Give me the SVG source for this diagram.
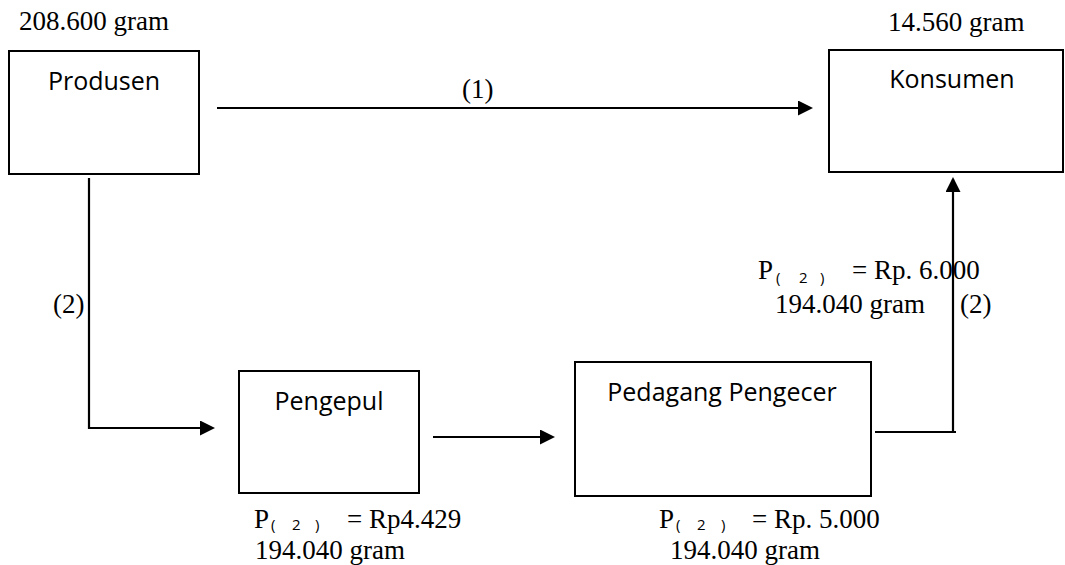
<svg xmlns="http://www.w3.org/2000/svg" width="1065" height="565" viewBox="0 0 1065 565">
  <style>
    .box { fill: #ffffff; stroke: #000000; stroke-width: 2; }
    .lbl { font-family: "Open Sans", "Liberation Sans", sans-serif; font-size: 25px; fill: #000000; text-anchor: middle; }
    .t { font-family: "Liberation Serif", "Times New Roman", serif; font-size: 27px; fill: #000000; }
    .sub { font-family: "Open Sans", "Liberation Sans", sans-serif; font-size: 15px; }
    .conn { fill: none; stroke: #000000; stroke-width: 2.2; }
  </style>
  <defs>
    <marker id="arrow" viewBox="0 0 15 15" refX="13" refY="7.5" markerWidth="15" markerHeight="15" markerUnits="userSpaceOnUse" orient="auto">
      <path d="M0,0 L15,7.5 L0,15 Z" fill="#000000"/>
    </marker>
  </defs>
  <rect width="1065" height="565" fill="#ffffff"/>

  <g id="connectors">
    <path class="conn" d="M217,108 H811" marker-end="url(#arrow)"/>
    <path class="conn" d="M89,178 V428 H213" marker-end="url(#arrow)"/>
    <path class="conn" d="M433,437 H553" marker-end="url(#arrow)"/>
    <path class="conn" d="M875,432 H956"/>
    <path class="conn" d="M953,433 V179" marker-end="url(#arrow)"/>
    <text class="t" x="462" y="98">(1)</text>
    <text class="t" x="53" y="313">(2)</text>
    <text class="t" x="960" y="313">(2)</text>
  </g>

  <g id="produsen">
    <text class="t" x="19" y="30">208.600 gram</text>
    <rect class="box" x="9" y="51" width="190" height="123"/>
    <text class="lbl" x="104" y="90">Produsen</text>
  </g>

  <g id="konsumen">
    <text class="t" x="888" y="31">14.560 gram</text>
    <rect class="box" x="829" y="50" width="234" height="122"/>
    <text class="lbl" x="952" y="88">Konsumen</text>
    <text class="t" x="758" y="279">P<tspan class="sub" x="776 788 799 810 820" y="283">( 2 )</tspan><tspan x="852" y="279">= Rp. 6.000</tspan></text>
    <text class="t" x="775" y="313">194.040 gram</text>
  </g>

  <g id="pengepul">
    <rect class="box" x="239" y="371" width="180" height="122"/>
    <text class="lbl" x="329" y="410">Pengepul</text>
    <text class="t" x="254" y="528">P<tspan class="sub" x="271 282 292 304 315" y="530">( 2 )</tspan><tspan x="347" y="528">= Rp4.429</tspan></text>
    <text class="t" x="255" y="559">194.040 gram</text>
  </g>

  <g id="pedagang">
    <rect class="box" x="575" y="362" width="296" height="134"/>
    <text class="lbl" x="722" y="401">Pedagang Pengecer</text>
    <text class="t" x="659" y="528">P<tspan class="sub" x="676 687 697 710 721" y="530">( 2 )</tspan><tspan x="752" y="528">= Rp. 5.000</tspan></text>
    <text class="t" x="670" y="559">194.040 gram</text>
  </g>
</svg>
